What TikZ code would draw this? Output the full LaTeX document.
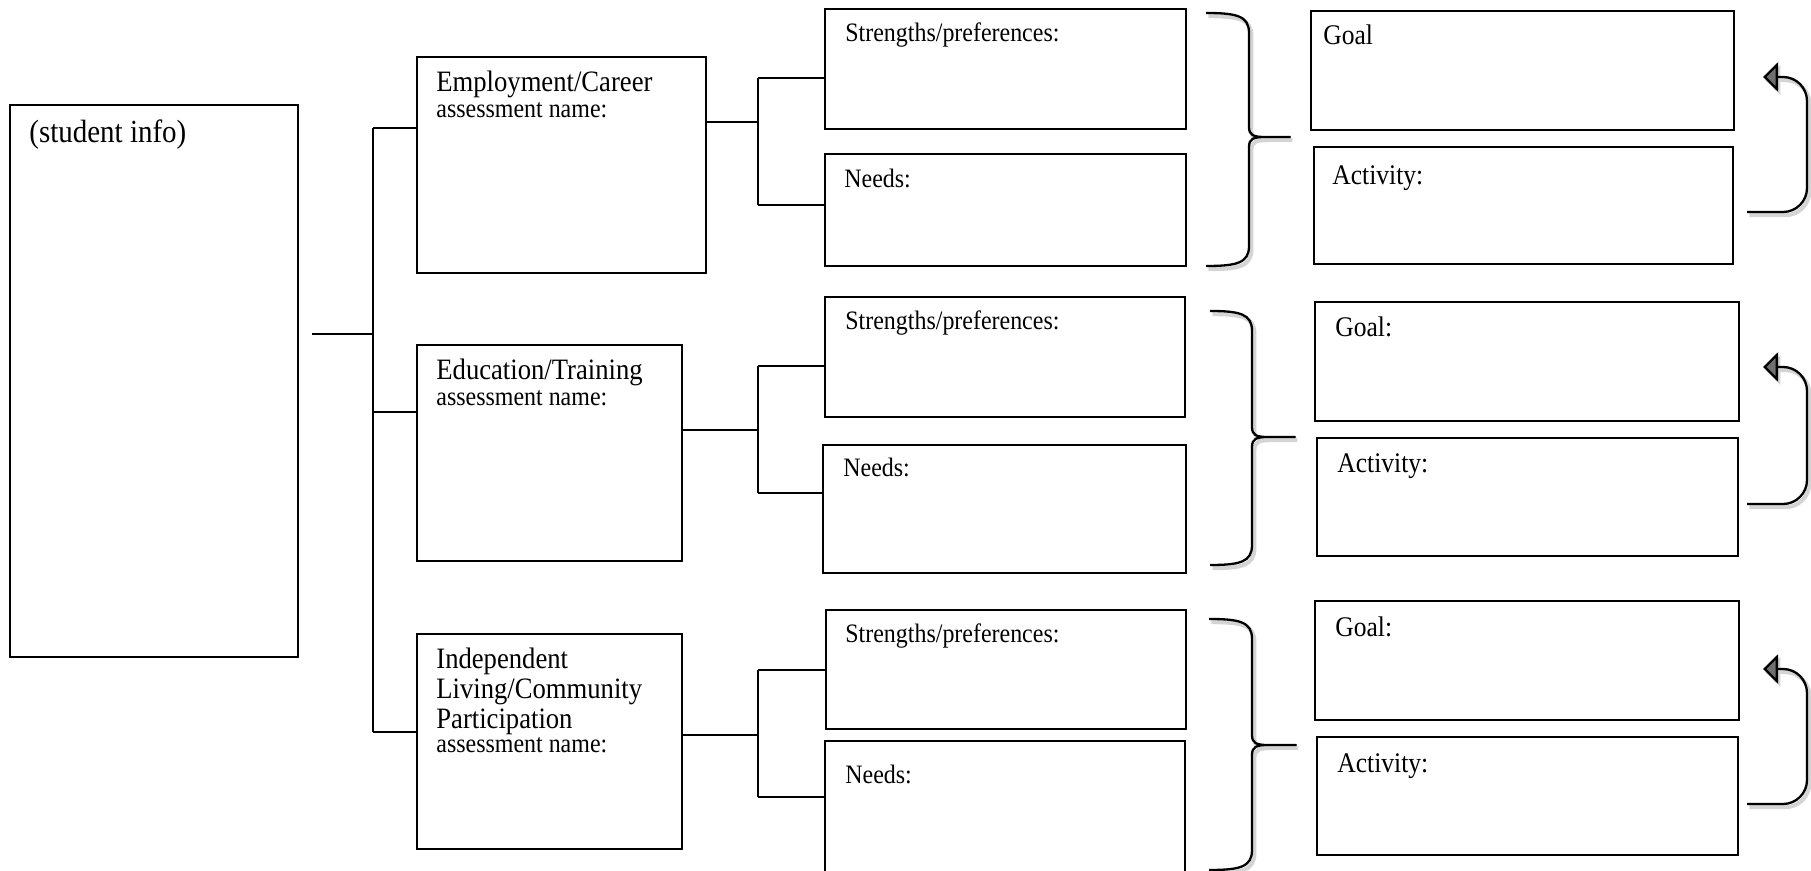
\documentclass[tikz,border=0pt]{standalone}
\usepackage{fontspec}
\setmainfont[FakeStretch=0.9]{Liberation Serif}
\usetikzlibrary{arrows.meta}
\definecolor{tipgray}{RGB}{112,112,112}
\definecolor{shadowgray}{RGB}{212,212,212}

\begin{document}
\begin{tikzpicture}[x=0.5pt,y=-0.5pt,
	box/.style={draw=black,line width=1.2pt,anchor=north west,inner sep=0pt},
	txt/.style={anchor=base west,inner sep=0pt,align=left},
	wire/.style={black,line width=1.15pt},
	ghost/.style={preaction={draw=shadowgray,line width=2pt,transform canvas={shift={(1.2pt,-1.6pt)}}}}]
	\clip (0,0) rectangle (1811,871);

	\node[box,minimum width=144pt,minimum height=276pt] (info) at (9,104) {};
	\node[box,minimum width=144.5pt,minimum height=108pt] (emp) at (416,56) {};
	\node[box,minimum width=132.5pt,minimum height=108pt] (edu) at (416,344) {};
	\node[box,minimum width=132.5pt,minimum height=107.5pt] (ind) at (416,633) {};

	\node[box,minimum width=180.5pt,minimum height=60pt] (s1) at (824,8) {};
	\node[box,minimum width=180.5pt,minimum height=56pt] (n1) at (824,153) {};
	\node[box,minimum width=180pt,minimum height=60pt] (s2) at (824,296) {};
	\node[box,minimum width=181.5pt,minimum height=64pt] (n2) at (822,444) {};
	\node[box,minimum width=180pt,minimum height=59.5pt] (s3) at (825,609) {};
	\node[box,minimum width=180pt,minimum height=80pt] (n3) at (824,740) {};

	\node[box,minimum width=211.5pt,minimum height=59.5pt] (g1) at (1310,10) {};
	\node[box,minimum width=209.5pt,minimum height=58.5pt] (a1) at (1313,146) {};
	\node[box,minimum width=212pt,minimum height=59.5pt] (g2) at (1314,301) {};
	\node[box,minimum width=210.5pt,minimum height=59pt] (a2) at (1316,437) {};
	\node[box,minimum width=212pt,minimum height=59.5pt] (g3) at (1314,600) {};
	\node[box,minimum width=210.5pt,minimum height=59pt] (a3) at (1316,736) {};

	% texts (base = last line)
	\node[txt,font=\fontsize{16.1}{18}\selectfont] (info-t) at (29,143) {(student info)};
	\node[txt,font=\fontsize{14.8}{15}\selectfont] (emp-t) at (436,118)
		{Employment/Career\\[-2pt]{\fontsize{13.3}{15}\selectfont assessment name:}};
	\node[txt,font=\fontsize{14.8}{15}\selectfont] (edu-t) at (436,406)
		{Education/Training\\[-2pt]{\fontsize{13.3}{15}\selectfont assessment name:}};
	\node[txt,font=\fontsize{14.8}{15}\selectfont] (ind-t) at (436,752)
		{Independent\\Living/Community\\Participation\\[-3pt]{\fontsize{13.3}{15}\selectfont assessment name:}};

	\foreach \n/\x/\y/\t in {s1/845/42/Strengths\slash preferences:,n1/844/188/Needs:,
		s2/845/330/Strengths\slash preferences:,n2/843/477/Needs:,
		s3/845/642/Strengths\slash preferences:,n3/845/783/Needs:}
		\node[txt,font=\fontsize{13.3}{15}\selectfont] (\n-t) at (\x,\y) {\t};

	\foreach \n/\x/\y/\t in {g1/1323/45/Goal,a1/1332/185/Activity:,g2/1335/337/Goal:,
		a2/1337/473/Activity:,g3/1335/636/Goal:,a3/1337/772/Activity:}
		\node[txt,font=\fontsize{14.2}{16}\selectfont] (\n-t) at (\x,\y) {\t};

	% tree lines
	\coordinate (j0) at (312,334);
	\coordinate (k0) at (373,334);
	\coordinate (k1) at (373,128);
	\coordinate (k2) at (373,412);
	\coordinate (k3) at (373,732);
	\draw[wire] (j0) -- (k0);
	\draw[wire] (k1) -- (k3);
	\foreach \k/\b in {k1/emp,k2/edu,k3/ind}
		\draw[wire] (\k) -- (\k -| \b.west);

	\foreach \b/\s/\n/\y/\ya/\yb in {emp/s1/n1/122/78/205,edu/s2/n2/430/366/493,ind/s3/n3/735/670/797}{
		\draw[wire] (\b.east |- 0,\y) -- (758,\y);
		\draw[wire] (758,\ya) -- (758,\yb);
		\draw[wire] (758,\ya) -- (\s.west |- 0,\ya);
		\draw[wire] (758,\yb) -- (\n.west |- 0,\yb);
	}

	% braces
	\foreach \xl/\xv/\xt/\yt/\ym/\yb in {1206/1249/1290/13/137/266,1210/1252/1295/311/437/565,1209/1252/1296/619/745/870}
		\draw[wire,ghost,line join=round] (\xl,\yt) .. controls (\xv-12,\yt) and (\xv,\yt+3) .. (\xv,\yt+20)
			-- (\xv,\ym-10) .. controls (\xv,\ym-2) and (\xv+4,\ym) .. (\xv+16,\ym) -- (\xt,\ym)
			-- (\xv+16,\ym) .. controls (\xv+4,\ym) and (\xv,\ym+2) .. (\xv,\ym+10)
			-- (\xv,\yb-20) .. controls (\xv,\yb-3) and (\xv-12,\yb) .. (\xl,\yb);

	% loop arrows
	\foreach \r/\ya/\yt in {1/212/77,2/504/367,3/804/669}{
		\coordinate (p\r) at (1747,\ya);
		\coordinate (q\r) at (1763,\yt);
		\draw[wire,ghost,rounded corners=12pt,-{Triangle[length=7.5pt,width=14.5pt,fill=tipgray]}]
			(p\r) -- (1807,\ya) -- (1807,\yt) -- (q\r);
	}
\end{tikzpicture}
\end{document}
